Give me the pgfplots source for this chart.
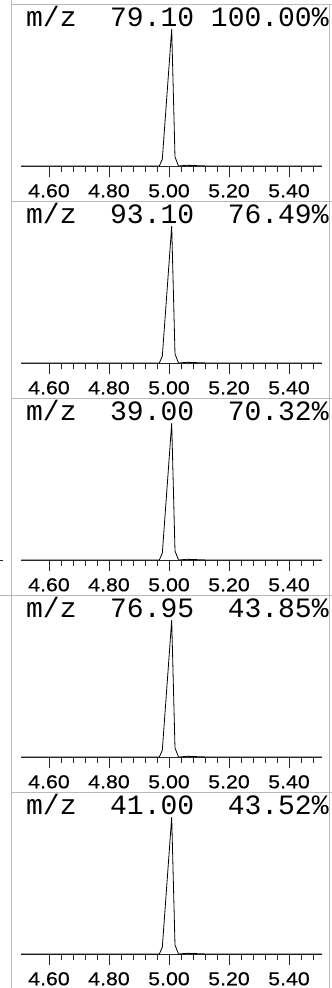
\documentclass[border=0pt]{standalone}
\usepackage{fontspec}
\usepackage{pgfplots}
\usepackage{pgfplotstable}
\pgfplotsset{compat=1.18}

\newfontfamily\monofont{Liberation Mono}
\newfontfamily\tickfont[FakeStretch=1.14, FakeBold=0.4]{Liberation Sans}
\newcommand\tl[1]{{\tickfont\fontsize{18.7}{18.7}\selectfont #1}}
\definecolor{cellgray}{RGB}{185,185,185}

% normalised ion trace, same shape in every panel
\pgfplotstableread{
x       y
4.507   0
4.9677  0
4.9777  0.049
4.992   0.483
5.009   1.0
5.020   0.066
5.0317  0.0
5.06    0.005
5.10    0.002
5.13    0
5.51    0
}\peak

\pgfplotsset{
  ionpanel/.style={
    scale only axis,
    width=301pt, height=150pt,
    anchor=south west,
    xmin=4.5067, xmax=5.51,
    ymin=0, ymax=1.097,
    axis x line=bottom, axis y line=none,
    x axis line style={-, line width=0.9pt, black!85},
    tick align=outside,
    major tick length=11pt, minor tick length=6pt,
    xtick={4.6,4.8,5.0,5.2,5.4},
    xticklabels={\tl{4.60},\tl{4.80},\tl{5.00},\tl{5.20},\tl{5.40}},
    minor xtick={4.64,4.68,4.72,4.76,4.84,4.88,4.92,4.96,5.04,5.08,5.12,5.16,5.24,5.28,5.32,5.36,5.44,5.48},
    tick style={black!85, line width=0.7pt},
    xticklabel style={inner sep=0pt, anchor=north, yshift=-7pt},
  },
}

% #1 baseline y, #2 header baseline y, #3 header text
\newcommand\panel[3]{%
  \begin{axis}[ionpanel, at={(21pt,#1)}]
    \addplot[black, line width=0.8pt] table[x=x, y=y]{\peak};
  \end{axis}
  \node[anchor=base west, inner sep=0pt, font=\monofont\fontsize{28}{28}\selectfont] at (26pt,#2) {#3};
}

\begin{document}
\begin{tikzpicture}
  \useasboundingbox (0,0) rectangle (332pt,988pt);
  \clip (0,0) rectangle (332pt,988pt);

  % table cell borders
  \begin{scope}[cellgray, line width=0.9pt]
    \draw (11.5pt,0) -- (11.5pt,988pt);
    \draw (329.5pt,0) -- (329.5pt,984pt);
    \draw (11.5pt,984pt) -- (332pt,984pt);
    \draw (11.5pt,787pt) -- (332pt,787pt);
    \draw (11.5pt,590pt) -- (332pt,590pt);
    \draw (0pt,393pt) -- (332pt,393pt);
    \draw (11.5pt,196pt) -- (332pt,196pt);
  \end{scope}
  \draw[black!85, line width=0.9pt] (0,428pt) -- (3pt,428pt);

  \panel{822pt}{961pt}{m/z~~79.10~100.00\%}
  \panel{625pt}{764pt}{m/z~~93.10~~76.49\%}
  \panel{428pt}{567pt}{m/z~~39.00~~70.32\%}
  \panel{231pt}{370pt}{m/z~~76.95~~43.85\%}
  \panel{34pt}{173pt}{m/z~~41.00~~43.52\%}
\end{tikzpicture}
\end{document}
